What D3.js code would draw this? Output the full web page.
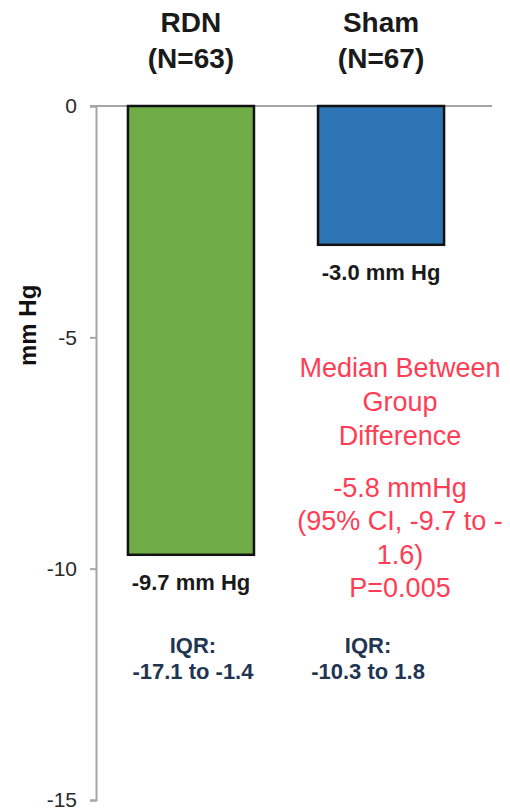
<!DOCTYPE html>
<html>
<head>
<meta charset="utf-8">
<script src="https://cdn.jsdelivr.net/npm/d3@7"></script>
<style>
  body { margin: 0; background: #fff; }
  text { font-family: Arial, "Liberation Sans", sans-serif; }
</style>
</head>
<body>
<svg id="chart" width="510" height="812"></svg>
<script>
// data
var groups = ["RDN", "Sham"];
var nLabels = ["(N=63)", "(N=67)"];
var medians = [-9.7, -3.0];
var iqrLow = [-17.1, -10.3];
var iqrHigh = [-1.4, 1.8];
var yTicks = [0, -5, -10, -15];
var barColors = ["#70ad47", "#2e75b6"];
var diffLines = ["Median Between", "Group", "Difference"];
var statLines = ["-5.8 mmHg", "(95% CI, -9.7 to -", "1.6)", "P=0.005"];

var svg = d3.select("#chart");

var x = d3.scaleBand()
    .domain(groups)
    .range([96, 476])
    .paddingInner(0.337)
    .paddingOuter(0.168);

var y = d3.scaleLinear()
    .domain([-15, 0])
    .range([800, 106]);

// y axis (hyphen minus like the original, not the unicode one)
var yAxis = svg.append("g")
    .attr("transform", "translate(96,0)")
    .call(d3.axisLeft(y).tickValues(yTicks).tickSize(6).tickPadding(13)
        .tickFormat(function (d) { return String(d); }));
yAxis.select(".domain").attr("stroke", "#a6a6a6").attr("stroke-width", 2);
yAxis.selectAll(".tick line").attr("stroke", "#a6a6a6").attr("stroke-width", 2);
yAxis.selectAll(".tick text")
    .attr("fill", "#2a2a2a")
    .style("font-size", "21px")
    .style("font-family", "Arial, 'Liberation Sans', sans-serif");

// zero line
svg.append("line")
    .attr("x1", 90).attr("x2", 492)
    .attr("y1", y(0)).attr("y2", y(0))
    .attr("stroke", "#a6a6a6").attr("stroke-width", 2);

// axis title
svg.append("text")
    .attr("transform", "translate(36," + (y(-5) - 12) + ") rotate(-90)")
    .attr("text-anchor", "middle")
    .style("font-size", "24px")
    .style("font-weight", "bold")
    .attr("fill", "#111")
    .text("mm Hg");

// bars
svg.selectAll(".bar")
    .data(groups)
    .enter().append("rect")
    .attr("class", "bar")
    .attr("x", function (d) { return x(d); })
    .attr("y", y(0))
    .attr("width", x.bandwidth())
    .attr("height", function (d, i) { return y(medians[i]) - y(0); })
    .attr("fill", function (d, i) { return barColors[i]; })
    .attr("stroke", "#111")
    .attr("stroke-width", 2.5);

// group labels above
var head = svg.selectAll(".head")
    .data(groups)
    .enter().append("text")
    .attr("class", "head")
    .attr("text-anchor", "middle")
    .attr("fill", "#1a1a1a")
    .style("font-size", "28px")
    .style("font-weight", "bold");
head.append("tspan")
    .attr("x", function (d) { return x(d) + x.bandwidth() / 2; })
    .attr("y", 32)
    .text(function (d) { return d; });
head.append("tspan")
    .attr("x", function (d) { return x(d) + x.bandwidth() / 2; })
    .attr("y", 68)
    .text(function (d, i) { return nLabels[i]; });

// median labels under bars
svg.selectAll(".val")
    .data(groups)
    .enter().append("text")
    .attr("class", "val")
    .attr("x", function (d) { return x(d) + x.bandwidth() / 2; })
    .attr("y", function (d, i) { return y(medians[i]) + 35; })
    .attr("text-anchor", "middle")
    .attr("fill", "#1a1a1a")
    .style("font-size", "22px")
    .style("font-weight", "bold")
    .text(function (d, i) { return medians[i].toFixed(1) + " mm Hg"; });

// IQR labels
var iqrOffset = [2, -13];
var iqr = svg.selectAll(".iqr")
    .data(groups)
    .enter().append("text")
    .attr("class", "iqr")
    .attr("text-anchor", "middle")
    .attr("fill", "#1f3550")
    .style("font-size", "22px")
    .style("font-weight", "bold");
iqr.append("tspan")
    .attr("x", function (d, i) { return x(d) + x.bandwidth() / 2 + iqrOffset[i]; })
    .attr("y", 653)
    .text("IQR:");
iqr.append("tspan")
    .attr("x", function (d, i) { return x(d) + x.bandwidth() / 2 + iqrOffset[i]; })
    .attr("y", 679)
    .text(function (d, i) { return iqrLow[i] + " to " + iqrHigh[i]; });

// between group difference note
var note = svg.append("text")
    .attr("text-anchor", "middle")
    .attr("fill", "#ff3d55")
    .style("font-size", "27px");
note.selectAll("tspan.d")
    .data(diffLines)
    .enter().append("tspan")
    .attr("x", 400)
    .attr("y", function (d, i) { return 377 + i * 34; })
    .text(function (d) { return d; });
note.selectAll("tspan.s")
    .data(statLines)
    .enter().append("tspan")
    .attr("x", 400)
    .attr("y", function (d, i) { return 497 + i * 33.3; })
    .text(function (d) { return d; });
</script>
</body>
</html>
